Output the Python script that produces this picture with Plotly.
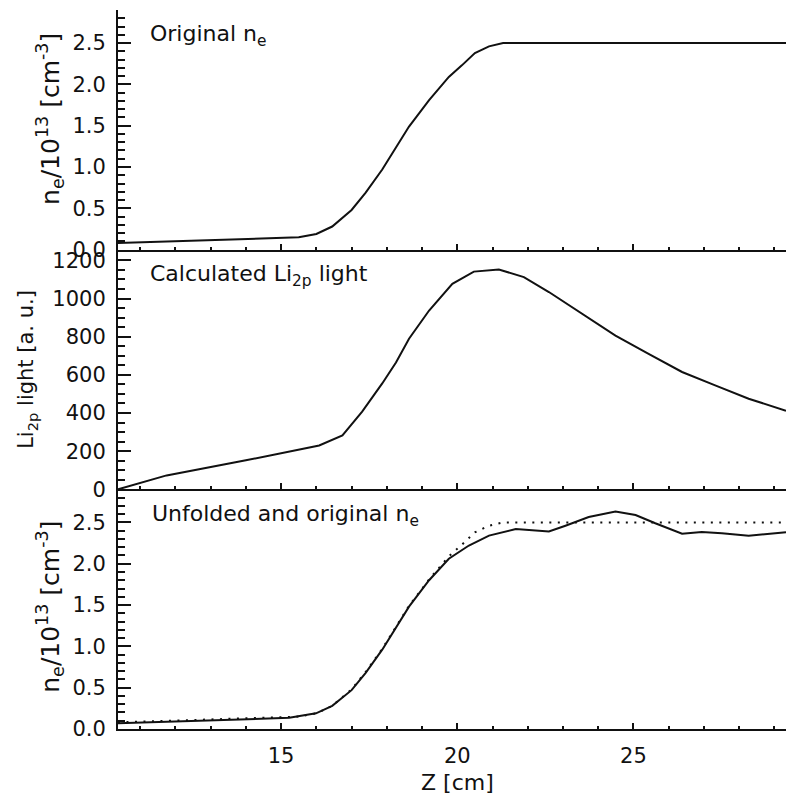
import plotly.graph_objects as go

# Original electron density profile n_e / 1e13 [cm^-3] versus Z [cm]
z_orig = [10.37, 12.0, 14.0, 15.5, 16.0, 16.45, 17.0, 17.4, 17.87, 18.35, 18.63,
          19.2, 19.76, 20.13, 20.5, 20.9, 21.3, 29.33]
ne_orig = [0.08, 0.10, 0.13, 0.15, 0.19, 0.28, 0.48, 0.69, 0.97, 1.30, 1.49,
           1.81, 2.09, 2.23, 2.38, 2.46, 2.50, 2.50]

# Calculated Li(2p) emission [a.u.]
z_light = [10.37, 11.75, 14.0, 16.08, 16.74, 17.3, 17.87, 18.26, 18.63, 19.2, 19.86,
           20.47, 21.18, 21.89, 22.6, 23.54, 24.49, 25.43, 26.38, 27.32, 28.27, 29.33]
li_light = [0, 73, 152, 230, 283, 407, 555, 665, 789, 937, 1077,
            1141, 1152, 1112, 1034, 920, 806, 710, 615, 545, 475, 412]

# Unfolded density profile
z_unf = [10.37, 12.5, 15.23, 15.99, 16.45, 17.0, 17.4, 17.87, 18.35, 18.63, 19.2,
         19.76, 20.33, 20.9, 21.66, 22.03, 22.6, 23.07, 23.73, 24.49, 25.06, 25.62,
         26.38, 26.94, 27.51, 28.27, 29.33]
ne_unf = [0.07, 0.10, 0.135, 0.19, 0.28, 0.47, 0.68, 0.96, 1.29, 1.48, 1.80,
          2.06, 2.22, 2.34, 2.42, 2.41, 2.39, 2.46, 2.565, 2.633, 2.59, 2.49,
          2.363, 2.384, 2.37, 2.339, 2.38]

x_range = [10.37, 29.33]
x_ticks = [15, 20, 25]
ne_range = [0, 2.9]
li_range = [0, 1256]
ne_ticks = [0.0, 0.5, 1.0, 1.5, 2.0, 2.5]
li_ticks = [0, 200, 400, 600, 800, 1000, 1200]

FONT = "DejaVu Sans"
TICK_FS = 21
CAP_FS = 22
INK = "#111111"

fig = go.Figure()
line = dict(color=INK, width=2)
fig.add_trace(go.Scatter(x=z_orig, y=ne_orig, mode="lines", line=line,
                         xaxis="x", yaxis="y"))
fig.add_trace(go.Scatter(x=z_light, y=li_light, mode="lines", line=line,
                         xaxis="x2", yaxis="y2"))
fig.add_trace(go.Scatter(x=z_orig, y=ne_orig, mode="lines",
                         line=dict(color=INK, width=2, dash="2px,6.5px"),
                         xaxis="x3", yaxis="y3"))
fig.add_trace(go.Scatter(x=z_unf, y=ne_unf, mode="lines", line=line,
                         xaxis="x3", yaxis="y3"))


def xaxis(anchor, show_labels, side="bottom", overlaying=None):
    ax = dict(
        anchor=anchor, side=side, range=x_range, tickmode="array", tickvals=x_ticks,
        ticks="inside", ticklen=6, tickwidth=2, tickcolor=INK,
        minor=dict(dtick=1, ticklen=3, tickwidth=2, tickcolor=INK, ticks="inside"),
        showline=True, linewidth=2, linecolor=INK,
        showgrid=False, zeroline=False, showticklabels=show_labels,
        ticklabelstandoff=7,
        tickfont=dict(family=FONT, size=TICK_FS, color=INK),
    )
    if overlaying:
        ax["overlaying"] = overlaying
    return ax


def yaxis(domain, rng, ticks, fmt, minor_step, anchor, side="left", overlaying=None,
          labels=True):
    ax = dict(
        anchor=anchor, side=side, range=rng, tickmode="array", tickvals=ticks,
        ticktext=[format(t, fmt) for t in ticks],
        ticks="inside", ticklen=13, tickwidth=2, tickcolor=INK,
        minor=dict(dtick=minor_step, ticklen=7, tickwidth=2, tickcolor=INK,
                   ticks="inside"),
        showline=True, linewidth=2, linecolor=INK,
        showgrid=False, zeroline=False, ticklabelstandoff=6,
        showticklabels=labels,
        tickfont=dict(family=FONT, size=TICK_FS, color=INK),
    )
    if overlaying:
        ax["overlaying"] = overlaying
    else:
        ax["domain"] = domain
    return ax


top_dom, mid_dom, bot_dom = [2 / 3, 1], [1 / 3, 2 / 3], [0, 1 / 3]

fig.update_layout(
    width=788, height=800,
    margin=dict(l=118, r=2, t=10, b=71),
    paper_bgcolor="white", plot_bgcolor="white",
    showlegend=False,
    xaxis=xaxis("y", False),
    xaxis2=xaxis("y2", False),
    xaxis3=xaxis("y3", True),
    yaxis=yaxis(top_dom, ne_range, ne_ticks, ".1f", 0.1, "x"),
    yaxis2=yaxis(mid_dom, li_range, li_ticks, "d", 50, "x2"),
    yaxis3=yaxis(bot_dom, ne_range, ne_ticks, ".1f", 0.1, "x3"),
    # tick marks along the top and right edges of each panel
    xaxis4=xaxis("y", False, side="top", overlaying="x"),
    xaxis5=xaxis("y2", False, side="top", overlaying="x2"),
    xaxis6=xaxis("y3", False, side="top", overlaying="x3"),
    yaxis4=yaxis(top_dom, ne_range, ne_ticks, ".1f", 0.1, "x", side="right",
                 overlaying="y", labels=False),
    yaxis5=yaxis(mid_dom, li_range, li_ticks, "d", 50, "x2", side="right",
                 overlaying="y2", labels=False),
    yaxis6=yaxis(bot_dom, ne_range, ne_ticks, ".1f", 0.1, "x3", side="right",
                 overlaying="y3", labels=False),
)

# Axis titles and panel captions
W, H, TOP = 668.0, 719.3, 10.0


def px_x(px):
    return (px - 118.0) / W


def px_y(py):
    return (TOP + H - py) / H


notes = [
    dict(text="Original n<sub>e</sub>", x=px_x(148), y=px_y(36), xanchor="left",
         size=CAP_FS),
    dict(text="Calculated Li<sub>2p</sub> light", x=px_x(148), y=px_y(276),
         xanchor="left", size=CAP_FS),
    dict(text="Unfolded and original n<sub>e</sub>", x=px_x(150), y=px_y(516),
         xanchor="left", size=CAP_FS),
    dict(text="n<sub>e</sub>/10<sup>13</sup> [cm<sup>-3</sup>]", x=px_x(50),
         y=px_y(119), xanchor="center", textangle=-90, size=25),
    dict(text="Li<sub>2p</sub> light [a. u.]", x=px_x(27), y=px_y(370),
         xanchor="center", textangle=-90, size=21),
    dict(text="n<sub>e</sub>/10<sup>13</sup> [cm<sup>-3</sup>]", x=px_x(50),
         y=px_y(607), xanchor="center", textangle=-90, size=25),
    dict(text="Z [cm]", x=px_x(457), y=px_y(783), xanchor="center", size=CAP_FS),
]
for n in notes:
    size = n.pop("size")
    fig.add_annotation(xref="paper", yref="paper", showarrow=False, yanchor="middle",
                       font=dict(family=FONT, size=size, color=INK), **n)

fig.write_html("out.html")
